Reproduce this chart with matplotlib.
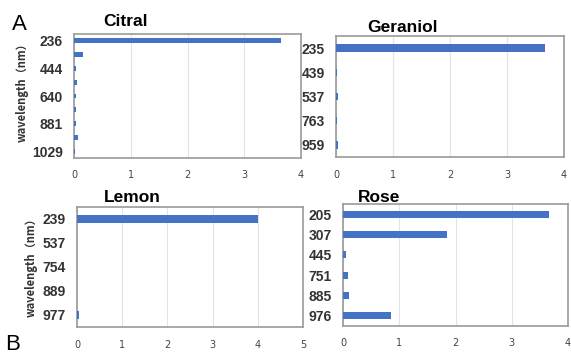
import matplotlib.pyplot as plt

# absorbance peaks per oil, wavelength labels top to bottom
citral_nm = ["236", "", "444", "", "640", "", "881", "", "1029"]
citral_abs = [3.65, 0.15, 0.03, 0.05, 0.04, 0.04, 0.03, 0.07, 0.01]

geraniol_nm = ["235", "439", "537", "763", "959"]
geraniol_abs = [3.67, 0.02, 0.03, 0.02, 0.03]

lemon_nm = ["239", "537", "754", "889", "977"]
lemon_abs = [4.0, 0.01, 0.01, 0.01, 0.05]

rose_nm = ["205", "307", "445", "751", "885", "976"]
rose_abs = [3.66, 1.84, 0.05, 0.08, 0.10, 0.85]

W, H = 571, 358
BLUE = "#4472C4"
SANS = ["Liberation Sans", "DejaVu Sans"]

fig = plt.figure(figsize=(W / 100, H / 100), dpi=100)


def box(l, r, t, b):
    return [l / W, 1 - b / H, (r - l) / W, (b - t) / H]


def panel(rect, labels, vals, xmax, title, title_x, title_y, bh=0.32, ylabel_at=None):
    ax = fig.add_axes(rect)
    ypos = list(range(len(vals)))
    ax.barh(ypos, vals, height=bh, color=BLUE, zorder=3)
    ax.set_ylim(len(vals) - 0.5, -0.5)
    ax.set_xlim(0, xmax)
    ax.set_xticks(range(xmax + 1))
    ax.set_yticks(ypos)
    ax.set_yticklabels(labels, fontsize=10, fontweight="bold", family=SANS, color="#333333")
    for lbl in ax.get_xticklabels():
        lbl.set_fontsize(7)
        lbl.set_color("#444444")
    ax.tick_params(length=0)
    ax.tick_params(axis="y", pad=8)
    ax.tick_params(axis="x", pad=9)
    ax.grid(axis="x", color="#e4e4e4", linewidth=0.8, zorder=0)
    for s in ax.spines.values():
        s.set_color("#9a9a9a")
        s.set_linewidth(1.2)
    fig.text(title_x / W, 1 - title_y / H, title, fontsize=12.5, fontweight="bold",
             family=SANS, ha="center", va="center")
    if ylabel_at:
        ax.set_ylabel("wavelength（nm）", fontsize=8, fontweight="bold",
                      family=["Noto Sans CJK JP", "DejaVu Sans"], color="#333333")
        ax.yaxis.set_label_coords(*ylabel_at)
    return ax


panel(box(74, 301, 34, 158), citral_nm, citral_abs, 4, "Citral", 125, 22, bh=0.35,
      ylabel_at=(-0.2, 0.55))
panel(box(336, 564, 36, 157), geraniol_nm, geraniol_abs, 4, "Geraniol", 402, 27, bh=0.3)
panel(box(77, 303, 207, 327), lemon_nm, lemon_abs, 5, "Lemon", 132, 198, bh=0.3,
      ylabel_at=(-0.175, 0.52))
panel(box(343, 568, 204, 326), rose_nm, rose_abs, 4, "Rose", 379, 197, bh=0.35)

fig.text(19 / W, 1 - 25 / H, "A", fontsize=16, family=SANS, ha="center", va="center")
fig.text(13 / W, 1 - 345 / H, "B", fontsize=16, family=SANS, ha="center", va="center")

plt.savefig("out.png", dpi=100)
